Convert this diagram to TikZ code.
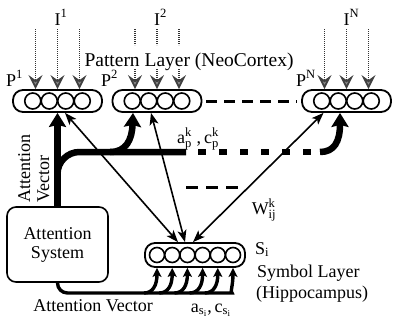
\documentclass[tikz,border=0pt]{standalone}
\usepackage{fontspec}
\setmainfont{Liberation Serif}
\usepackage{amsmath}
\usetikzlibrary{arrows.meta, calc}
\tikzset{
  layer/.style={draw, line width=1.8pt, rounded corners=10pt, minimum width=89pt, minimum height=22pt, inner sep=0pt},
  unit/.style={draw, circle, line width=1.6pt, minimum size=16pt, inner sep=0pt},
  inputline/.style={draw=black!80, line width=1.8pt, dash pattern=on 1.2pt off 0.8pt},
  input/.style={inputline, -{Stealth[length=14pt,width=14pt,inset=5pt,color=black!75,fill=black!45]}},
  attnline/.style={line width=6.5pt},
  attn/.style={attnline, -{Stealth[length=14pt,width=17pt,inset=2pt]}},
  link/.style={line width=1.6pt, {Stealth[length=12pt,width=9pt,inset=3pt]}-{Stealth[length=12pt,width=9pt,inset=3pt]}},
  vec/.style={line width=3.4pt, -{Stealth[length=9pt,width=9pt,inset=2pt]}},
  gapline/.style={line width=3pt, dash pattern=on 11pt off 7pt},
  lbl/.style={anchor=base west, inner sep=0pt}
}
\begin{document}
\begin{tikzpicture}[x=1pt, y=-1pt, font=\fontsize{18}{19}\selectfont]
\useasboundingbox (0,0) rectangle (394,322);
\node[layer] (p1) at (57.5,101) {};
\node[layer] (p2) at (157,101) {};
\node[layer] (pN) at (346.5,101) {};
\foreach \bx in {p1,p2,pN}
  \foreach \i/\dx in {1/-24.75,2/-8.25,3/8.25,4/24.75}
    \node[unit] (\bx-\i) at ($(\bx)+(\dx,0)$) {};
\node[layer, minimum width=100pt, minimum height=24pt] (s) at (195,255) {};
\foreach \i in {1,...,6}
  \node[unit, minimum size=15pt] (s-\i) at ($(s)+(-53.2+15.2*\i,0)$) {};
\node[draw, line width=1.6pt, rounded corners=9pt, minimum width=101pt, minimum height=75pt, align=center] (att) at (57.5,244.5) {Attention\\System};

\foreach \bx/\n in {p1/1,p2/2,pN/N}
  \node[lbl] (i\n) at ($(\bx.north)+(-3,-64)$) {$\text{I}^{\text{\n}}$};
\foreach \bx in {p1,pN}
  \foreach \dx in {-22,0,22}
    \draw[input] ($(\bx.north)+(\dx,-60)$) -- ($(\bx.north)+(\dx,0)$);
\foreach \dx in {-22,0,22}{
  \draw[inputline] ($(p2.north)+(\dx,-60)$) -- ($(p2.north)+(\dx,-44)$);
  \draw[input] ($(p2.north)+(\dx,-20)$) -- ($(p2.north)+(\dx,0)$);
}
\node[lbl] (lp1) at (6,86) {$\text{P}^{\text{1}}$};
\node[lbl] (lp2) at (101,86) {$\text{P}^{\text{2}}$};
\node[lbl] (lpN) at (296,86) {$\text{P}^{\text{N}}$};
\node[anchor=base, inner sep=0pt, font=\fontsize{19.5}{20}\selectfont] (pl) at (189,66) {Pattern Layer (NeoCortex)};
\draw[gapline] ([xshift=4pt]p2.east) -- ([xshift=-4pt]pN.west);

\draw[attn] (att.north) -- (p1.south);
\draw[attnline, rounded corners=22pt] ($(att.north)+(0,-10)$) |- (186,152) coordinate (solidend);
\draw[attnline, dash pattern=on 8pt off 13pt] (198,152) -- (312,152) coordinate (dashend);
\draw[attn] (320,152) .. controls (334,152) and (340,142) .. ([xshift=-6.5pt]pN.south);
\draw[attn] (110,152) .. controls (126,152) and (132,140) .. ([xshift=-24pt]p2.south);

\draw[link] ([xshift=7.5pt]p1.south) -- ([xshift=-17pt]s.north);
\draw[link] ([xshift=-6pt]p2.south) -- ([xshift=-10pt]s.north);
\draw[link] ([xshift=-23pt]pN.south) -- ([xshift=-2pt]s.north);
\draw[gapline, dash pattern=on 12pt off 8pt] (186,187) coordinate (m1) -- (238,187) coordinate (m2);

\node (apk) at (198,139) {${\text{a}\vphantom{\text{W}}}^{\text{k}}_{\text{p}}\;\text{,}\,{\text{c}\vphantom{\text{W}}}^{\text{k}}_{\text{p}}$};
\node (wij) at (264,210) {$\text{W}^{\text{k}}_{\text{ij}}$};
\node[lbl] (si) at (255,254) {$\text{S}_{\text{i}}$};
\node[lbl] (sl) at (257,277) {Symbol Layer};
\node[lbl] (hc) at (256,298) {(Hippocampus)};
\node[rotate=90, align=left, anchor=north west, inner sep=0pt] (avv) at (18,203) {Attention\\Vector};

\coordinate (bl) at (0,293);
\draw[vec, rounded corners=10pt] (att.south) |- ($(s-6 |- bl)+(-11,0)$) .. controls ($(s-6 |- bl)+(-3,0)$) and ($(s-6 |- bl)+(0,-8)$) .. (s-6 |- s.south);
\foreach \i in {1,...,5}
  \draw[vec] ($(s-\i |- bl)+(-13,0)$) .. controls ($(s-\i |- bl)+(-4,0)$) and ($(s-\i |- bl)+(0,-8)$) .. (s-\i |- s.south);
\node[anchor=base, inner sep=0pt] (av) at (93,311) {Attention Vector};
\node (asi) at (211,310) {$\text{a}_{\text{s}_{\text{i}}}\text{,}\,\text{c}_{\text{s}_{\text{i}}}$};
\end{tikzpicture}
\end{document}
